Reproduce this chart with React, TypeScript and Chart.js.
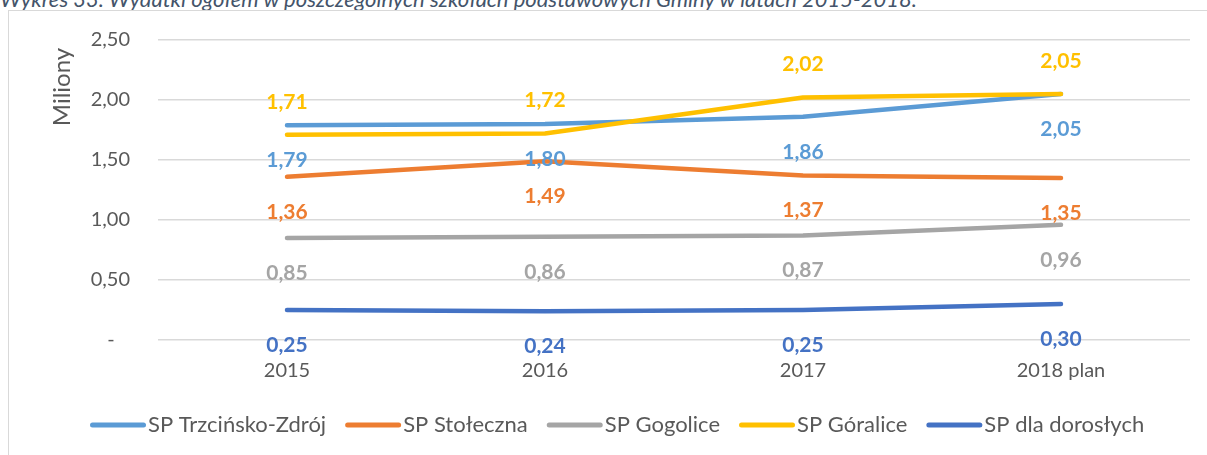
import React, { useEffect, useRef } from "react";
import { Chart, registerables } from "chart.js";

Chart.register(...registerables);

const categories = ["2015", "2016", "2017", "2018 plan"];
const seriesNames = [
  "SP Trzcińsko-Zdrój",
  "SP Stołeczna",
  "SP Gogolice",
  "SP Góralice",
  "SP dla dorosłych",
];
const trzcinsko = [1.79, 1.8, 1.86, 2.05];
const stoleczna = [1.36, 1.49, 1.37, 1.35];
const gogolice = [0.85, 0.86, 0.87, 0.96];
const goralice = [1.71, 1.72, 2.02, 2.05];
const dorosli = [0.25, 0.24, 0.25, 0.3];
const yTickValues = [0, 0.5, 1, 1.5, 2, 2.5];
const yTickLabels = ["-   ", "0,50", "1,00", "1,50", "2,00", "2,50"];
const axisTitle = "Miliony";
const chartTitle =
  "Wykres 33. Wydatki ogółem w poszczególnych szkołach podstawowych Gminy w latach 2015-2018.";

const colors = ["#5B9BD5", "#ED7D31", "#A5A5A5", "#FFC000", "#4472C4"];
const labelAbove = [false, false, false, true, false];
const seriesData = [trzcinsko, stoleczna, gogolice, goralice, dorosli];

const fmt = (v: number) => v.toFixed(2).replace(".", ",");

const valueLabels = {
  id: "valueLabels",
  afterDatasetsDraw(chart: any) {
    const ctx = chart.ctx;
    ctx.save();
    ctx.font = "bold 21px Lato";
    ctx.textAlign = "center";
    ctx.textBaseline = "middle";
    chart.data.datasets.forEach((ds: any, i: number) => {
      const meta = chart.getDatasetMeta(i);
      ctx.fillStyle = ds.borderColor;
      meta.data.forEach((pt: any, j: number) => {
        const off = labelAbove[i] ? -33 : 35;
        ctx.fillText(fmt(ds.data[j]), pt.x, pt.y + off);
      });
    });
    ctx.restore();
  },
};

const extras = {
  id: "extras",
  afterDraw(chart: any) {
    const ctx = chart.ctx;
    ctx.save();
    // axis title
    ctx.translate(62, 87);
    ctx.rotate(-Math.PI / 2);
    ctx.font = "24px Lato";
    ctx.fillStyle = "#595959";
    ctx.textAlign = "center";
    ctx.textBaseline = "middle";
    ctx.fillText(axisTitle, 0, 0);
    ctx.restore();

    // legend
    ctx.save();
    ctx.font = "22px Lato";
    ctx.textBaseline = "middle";
    ctx.textAlign = "left";
    let x = 90;
    const y = 425;
    chart.data.datasets.forEach((ds: any) => {
      ctx.strokeStyle = ds.borderColor;
      ctx.lineWidth = 5;
      ctx.lineCap = "round";
      ctx.beginPath();
      ctx.moveTo(x + 2.5, y);
      ctx.lineTo(x + 53.5, y);
      ctx.stroke();
      x += 58;
      ctx.fillStyle = "#595959";
      ctx.fillText(ds.label, x, y);
      x += ctx.measureText(ds.label).width + 19;
    });
    ctx.restore();
  },
};

export default function App() {
  const ref = useRef<HTMLCanvasElement | null>(null);
  useEffect(() => {
    if (!ref.current) return;
    const chart = new Chart(ref.current, {
      type: "line",
      data: {
        labels: categories,
        datasets: seriesNames.map((name, i) => ({
          label: name,
          data: seriesData[i],
          borderColor: colors[i],
          backgroundColor: colors[i],
          borderWidth: 4.5,
          borderCapStyle: "round",
          borderJoinStyle: "round",
          pointRadius: 0,
          pointHoverRadius: 0,
          tension: 0,
          fill: false,
          order: seriesNames.length - i,
        })),
      },
      options: {
        responsive: false,
        animation: false,
        devicePixelRatio: 1,
        layout: { padding: { left: 0, right: 17, top: 39, bottom: 0 } },
        plugins: {
          legend: { display: false },
          tooltip: { enabled: false },
          title: { display: false },
        },
        scales: {
          x: {
            type: "category",
            offset: true,
            grid: { display: false, drawTicks: false },
            border: { display: false },
            ticks: {
              color: "#595959",
              font: { family: "Lato", size: 20 },
              padding: 19,
              maxRotation: 0,
              autoSkip: false,
            },
            afterFit(scale: any) {
              scale.height = 115;
            },
          },
          y: {
            min: 0,
            max: 2.5,
            afterBuildTicks(scale: any) {
              scale.ticks = yTickValues.map((v) => ({ value: v }));
            },
            grid: { color: "#D9D9D9", lineWidth: 1.5, drawTicks: false },
            border: { display: false },
            ticks: {
              color: "#595959",
              font: { family: "Lato", size: 20 },
              padding: 28,
              callback: (v: any) => {
                const idx = yTickValues.indexOf(Number(v));
                return idx >= 0 ? yTickLabels[idx] : "";
              },
            },
            afterFit(scale: any) {
              scale.width = 158;
            },
          },
        },
      },
      plugins: [valueLabels, extras],
    } as any);
    return () => chart.destroy();
  }, []);

  return (
    <div
      style={{
        position: "fixed",
        left: 0,
        top: 0,
        width: 1207,
        height: 455,
        overflow: "hidden",
        background: "#fff",
      }}
    >
      <div
        style={{
          position: "absolute",
          left: 0,
          top: -14,
          font: "italic 22px Lato",
          color: "#44546A",
          whiteSpace: "nowrap",
          lineHeight: "26px",
        }}
      >
        {chartTitle}
      </div>
      <div
        style={{
          position: "absolute",
          left: 8,
          top: 10,
          width: 1300,
          height: 500,
          border: "1.5px solid #D9D9D9",
        }}
      />
      <canvas
        ref={ref}
        width={1207}
        height={455}
        style={{ position: "absolute", left: 0, top: 0 }}
      />
    </div>
  );
}
